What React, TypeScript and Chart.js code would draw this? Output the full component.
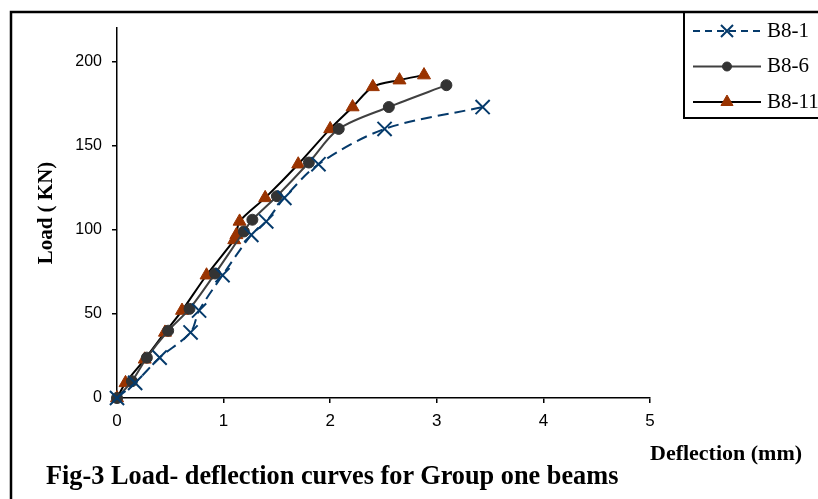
import React, { useEffect, useRef } from "react";
import { Chart, registerables } from "chart.js";
import { drawPoint } from "chart.js/helpers";

Chart.register(...registerables);

// ---- data ----
const seriesNames = ["B8-1", "B8-6", "B8-11"];

const b81X = [0, 0.17, 0.4, 0.69, 0.77, 0.99, 1.26, 1.4, 1.57, 1.89, 2.51, 3.43];
const b81Y = [0, 9, 24, 39, 52, 73, 97, 105, 119, 139, 160, 173];

const b86X = [0, 0.14, 0.28, 0.48, 0.68, 0.92, 1.19, 1.27, 1.5, 1.8, 2.08, 2.55, 3.09];
const b86Y = [0, 10, 24, 40, 53, 74, 99, 106, 120, 140, 160, 173, 186];

const b811X = [0, 0.08, 0.26, 0.45, 0.61, 0.84, 1.1, 1.12, 1.15, 1.39, 1.7, 2.0, 2.21, 2.4, 2.65, 2.88];
const b811Y = [0, 9, 23, 39, 52, 73, 94, 97, 105, 119, 139, 160, 173, 185, 189, 192];

const xTicks = [0, 1, 2, 3, 4, 5];
const yTicks = [0, 50, 100, 150, 200];

const xTitle = "Deflection (mm)";
const yTitle = "Load ( KN)";
const caption = "Fig-3 Load- deflection curves for Group one beams";

const toPoints = (xs: number[], ys: number[]) => xs.map((x, i) => ({ x, y: ys[i] }));

const legendPlugin = {
  id: "customLegendFrame",
  afterDraw(chart: any) {
    const ctx = chart.ctx as CanvasRenderingContext2D;
    ctx.save();
    // outer frame
    ctx.strokeStyle = "#000";
    ctx.lineWidth = 2.5;
    ctx.setLineDash([]);
    ctx.beginPath();
    ctx.moveTo(11, 499);
    ctx.lineTo(11, 12);
    ctx.lineTo(818, 12);
    ctx.stroke();
    // legend box
    ctx.lineWidth = 2;
    ctx.strokeRect(684, 12, 200, 106);

    chart.data.datasets.forEach((ds: any, i: number) => {
      const y = 31 + i * 35.5;
      ctx.save();
      ctx.strokeStyle = ds.borderColor;
      ctx.lineWidth = ds.borderWidth;
      ctx.setLineDash(ds.legendDash || []);
      ctx.beginPath();
      ctx.moveTo(693, y);
      ctx.lineTo(761, y);
      ctx.stroke();
      ctx.setLineDash([]);
      ctx.fillStyle = ds.pointBackgroundColor;
      ctx.strokeStyle = ds.pointBorderColor;
      ctx.lineWidth = ds.pointBorderWidth;
      drawPoint(
        ctx,
        { pointStyle: ds.pointStyle, radius: ds.legendRadius, borderWidth: ds.pointBorderWidth, rotation: 0 } as any,
        727,
        y
      );
      ctx.fillStyle = "#000";
      ctx.font = "21px 'Liberation Serif'";
      ctx.textBaseline = "middle";
      ctx.textAlign = "left";
      ctx.fillText(ds.label, 767, y);
      ctx.restore();
    });
    ctx.restore();
  },
};

export default function App() {
  const canvasRef = useRef<HTMLCanvasElement>(null);

  useEffect(() => {
    document.body.style.margin = "0";
    const chart = new Chart(canvasRef.current as HTMLCanvasElement, {
      type: "line",
      data: {
        datasets: [
          {
            label: seriesNames[0],
            data: toPoints(b81X, b81Y),
            borderColor: "#053a6b",
            borderWidth: 2,
            borderDash: [11, 6],
            legendDash: [7, 5],
            pointStyle: "crossRot",
            pointRadius: 10,
            legendRadius: 8.5,
            pointBorderWidth: 2,
            pointBorderColor: "#053a6b",
            pointBackgroundColor: "#053a6b",
            tension: 0.3,
            clip: false,
          } as any,
          {
            label: seriesNames[1],
            data: toPoints(b86X, b86Y),
            borderColor: "#404040",
            borderWidth: 2,
            pointStyle: "circle",
            pointRadius: 5.5,
            legendRadius: 4.5,
            pointBorderWidth: 1,
            pointBorderColor: "#333333",
            pointBackgroundColor: "#333333",
            tension: 0.3,
            clip: false,
          } as any,
          {
            label: seriesNames[2],
            data: toPoints(b811X, b811Y),
            borderColor: "#000000",
            borderWidth: 2,
            pointStyle: "triangle",
            pointRadius: 7.5,
            legendRadius: 7,
            pointBorderWidth: 1,
            pointBorderColor: "#993300",
            pointBackgroundColor: "#993300",
            tension: 0.3,
            clip: false,
          } as any,
        ],
      },
      options: {
        animation: false,
        responsive: false,
        events: [],
        layout: { padding: { top: 28, right: 168, left: 0, bottom: 0 } },
        plugins: {
          legend: { display: false },
          tooltip: { enabled: false },
          title: { display: false },
        },
        scales: {
          x: {
            type: "linear",
            min: 0,
            max: 5,
            afterFit: (s: any) => {
              s.height = 101;
            },
            afterBuildTicks: (s: any) => {
              s.ticks = xTicks.map((v) => ({ value: v }));
            },
            grid: {
              display: true,
              drawOnChartArea: false,
              drawTicks: true,
              tickLength: 5,
              color: "#000",
              lineWidth: 1.5,
            },
            border: { display: true, color: "#000", width: 1.5 },
            ticks: {
              color: "#000",
              font: { family: "'Liberation Sans'", size: 17 },
              padding: 8,
              maxRotation: 0,
            },
          },
          y: {
            type: "linear",
            min: 0,
            max: 220,
            afterFit: (s: any) => {
              s.width = 117;
            },
            afterBuildTicks: (s: any) => {
              s.ticks = yTicks.map((v) => ({ value: v }));
            },
            grid: {
              display: true,
              drawOnChartArea: false,
              drawTicks: true,
              tickLength: 5,
              color: "#000",
              lineWidth: 1.5,
            },
            border: { display: true, color: "#000", width: 1.5 },
            ticks: {
              color: "#000",
              font: { family: "'Liberation Sans'", size: 16 },
              padding: 10,
            },
            title: {
              display: true,
              text: yTitle,
              color: "#000",
              font: { family: "'Liberation Serif'", size: 21, weight: "bold" },
              padding: { top: 34, bottom: 0 },
            },
          },
        },
      } as any,
      plugins: [legendPlugin],
    });
    return () => chart.destroy();
  }, []);

  return (
    <div style={{ position: "absolute", left: 0, top: 0, width: 818, height: 499, background: "#fff", overflow: "hidden" }}>
      <canvas ref={canvasRef} width={818} height={499} style={{ position: "absolute", left: 0, top: 0 }} />
      <div
        style={{
          position: "absolute",
          left: 650,
          top: 442,
          fontFamily: "'Liberation Serif'",
          fontWeight: "bold",
          fontSize: 22,
          lineHeight: "22px",
          color: "#000",
          whiteSpace: "nowrap",
        }}
      >
        {xTitle}
      </div>
      <div
        style={{
          position: "absolute",
          left: 46,
          top: 463,
          fontFamily: "'Liberation Serif'",
          fontWeight: "bold",
          fontSize: 26.3,
          lineHeight: "26px",
          color: "#000",
          whiteSpace: "nowrap",
        }}
      >
        {caption}
      </div>
    </div>
  );
}
